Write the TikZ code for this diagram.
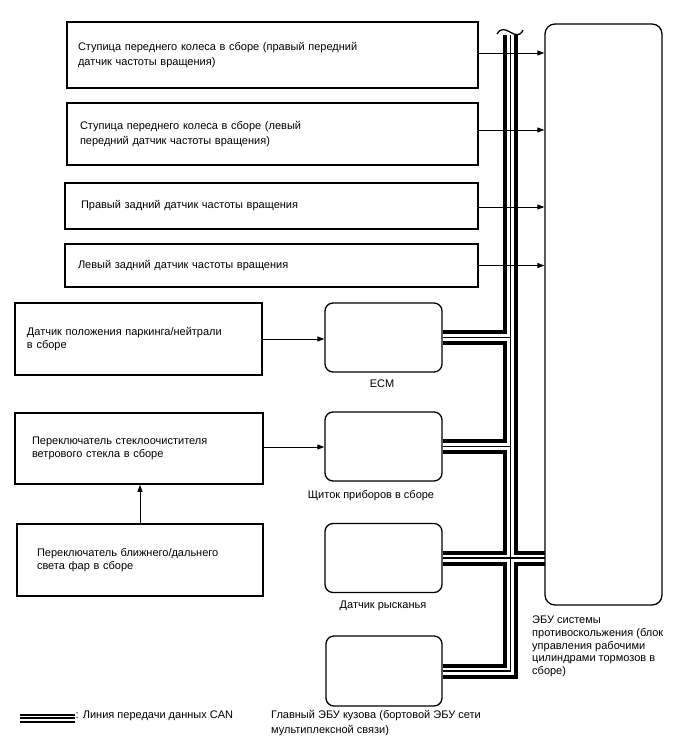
\documentclass[tikz,border=0pt]{standalone}
\usepackage{fontspec}
\setmainfont{Liberation Sans}
\usetikzlibrary{arrows.meta}
\begin{document}
\begin{tikzpicture}[x=1pt,y=-1pt,
  sbox/.style={draw,line width=1.6pt,align=left,inner ysep=0pt,font=\fontsize{11}{15.5}\selectfont},
  lbox/.style={sbox,font=\fontsize{11}{13.5}\selectfont},
  rbox/.style={draw,line width=1.3pt,rounded corners=8pt,minimum width=117pt,minimum height=69pt,inner sep=0pt},
  lbl/.style={inner sep=0pt,align=left,font=\fontsize{11}{12.7}\selectfont},
  arr/.style={line width=0.9pt,-{Triangle[length=7pt,width=5pt]}},
  busA/.style={line width=15pt,black},
  busB/.style={line width=7pt,white},
  busC/.style={line width=1.2pt,black},
  legA/.style={line width=9pt,black},
  legB/.style={line width=5pt,white},
  legC/.style={line width=2pt,black}]
\useasboundingbox (0,0) rectangle (688,755);

% sensor boxes
\node[sbox,text width=389pt,inner xsep=11pt,minimum height=66pt] (s1) at (272.5,55)
  {Ступица переднего колеса в сборе (правый передний\\датчик частоты вращения)};
\node[sbox,text width=385pt,inner xsep=13pt,minimum height=62pt] (s2) at (272.5,134)
  {Ступица переднего колеса в сборе (левый\\передний датчик частоты вращения)};
\node[sbox,text width=381pt,inner xsep=16pt,minimum height=46pt] (s3) at (271.5,206)
  {Правый задний датчик частоты вращения};
\node[sbox,text width=387pt,inner xsep=13pt,minimum height=43pt] (s4) at (271.5,265.5)
  {Левый задний датчик частоты вращения};
\node[lbox,text width=223pt,inner xsep=12pt,minimum height=72pt] (s5) at (138.5,339)
  {Датчик положения паркинга/нейтрали\\в сборе};
\node[lbox,text width=214pt,inner xsep=17pt,minimum height=71pt] (s6) at (139,448.5)
  {Переключатель стеклоочистителя\\ветрового стекла в сборе};
\node[lbox,text width=206pt,inner xsep=20pt,minimum height=72pt] (s7) at (140,560)
  {Переключатель ближнего/дальнего\\света фар в сборе};

% ECUs
\node[rbox] (ecm) at (383.5,337.5) {};
\node[rbox] (ins) at (383.5,446.5) {};
\node[rbox] (yaw) at (383.5,558) {};
\node[rbox,minimum width=116pt,minimum height=70pt] (body) at (384,671) {};
\coordinate (bustop) at (510.5,35);

% CAN bus
\foreach \st in {busA,busB,busC}{
  \draw[\st] (body.east) -- (body.east -| bustop) -- (bustop);
  \draw[\st] (ecm.east) -- (ecm.east -| bustop);
  \draw[\st] (ins.east) -- (ins.east -| bustop);
  \draw[\st] (yaw.east) -- (yaw.east -| 545,0);
}
\draw[line width=1.3pt] (497,34) .. controls (500,28) and (505,29) .. (510,32)
  .. controls (515,35) and (520,37) .. (523,30);

\node[draw,line width=1.3pt,rounded corners=10pt,minimum width=117pt,minimum height=581pt,inner sep=0pt] (ecu) at (603.5,314.5) {};

% arrows
\draw[arr] ([yshift=2pt]s1.east) -- ([yshift=2pt]s1.east -| ecu.west);
\draw[arr] ([yshift=4pt]s2.east) -- ([yshift=4pt]s2.east -| ecu.west);
\draw[arr] ([yshift=-1pt]s3.east) -- ([yshift=-1pt]s3.east -| ecu.west);
\draw[arr] (s4.east) -- (s4.east -| ecu.west);
\draw[arr] (s5.east) -- (s5.east -| ecm.west);
\draw[arr] ([yshift=1.5pt]s6.east) -- ([yshift=1.5pt]s6.east -| ins.west);
\draw[arr] (s7.north) -- (s7.north |- s6.south);

% labels
\node[lbl] (lecm) at (382,384) {ECM};
\node[lbl] (lins) at (371,496) {Щиток приборов в сборе};
\node[lbl] (lyaw) at (383,606) {Датчик рысканья};
\node[lbl,anchor=north west,font=\fontsize{11}{15}\selectfont] (lbody) at (271,710)
  {Главный ЭБУ кузова (бортовой ЭБУ сети\\мультиплексной связи)};
\node[lbl,anchor=north west] (lecu) at (532,616)
  {ЭБУ системы\\противоскольжения (блок\\управления рабочими\\цилиндрами тормозов в\\сборе)};

% legend
\coordinate (la) at (20,718);
\coordinate (lb) at (75,718);
\foreach \st in {legA,legB,legC}{ \draw[\st] (la) -- (lb); }
\node[lbl,anchor=west] (lleg) at (75.5,716) {: Линия передачи данных CAN};
\end{tikzpicture}
\end{document}
